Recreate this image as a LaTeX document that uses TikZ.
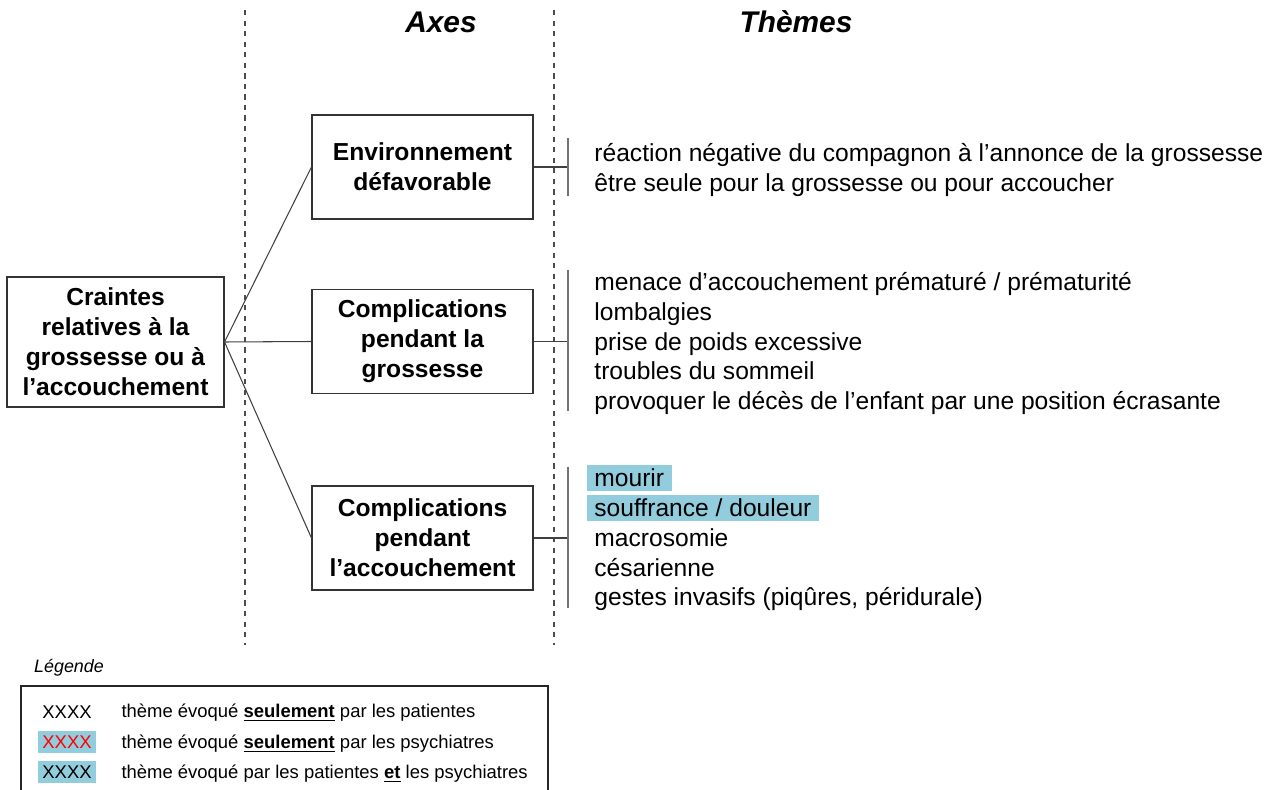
\documentclass[tikz,border=0pt]{standalone}
\usepackage{fontspec}
\setmainfont{Liberation Sans}
\usetikzlibrary{positioning, calc}
\definecolor{hlblue}{RGB}{146,205,221}
\tikzset{
    every picture/.style = {line width = 0.6pt},
    box/.style = {
        draw = black!80,
        align = center,
        inner sep = 2pt,
        font = \bfseries\fontsize{14}{17}\selectfont
    },
    axe/.style = {box, minimum width = 4.42cm, minimum height = 2.08cm},
    theme/.style = {
        anchor = west,
        inner xsep = 4.5pt,
        inner ysep = 1pt,
        text height = 11.4pt,
        text depth = 1.3pt,
        font = \fontsize{14}{17}\selectfont
    },
    both/.style = {fill = hlblue},
    branch/.style = {draw = black!75},
    bracket/.style = {draw = black!55},
    sep/.style = {draw = black!70, dashed},
    title/.style = {font = \bfseries\itshape\fontsize{17}{20}\selectfont},
    xxxx/.style = {
        minimum width = 1.16cm,
        minimum height = 0.44cm,
        inner sep = 0pt,
        font = \fontsize{10.5}{12}\selectfont
    },
    legtext/.style = {anchor = west, inner sep = 0pt, font = \fontsize{10.5}{12}\selectfont}
}

\begin{document}
\begin{tikzpicture}
    \path[use as bounding box, clip] (0, 0) rectangle (25.48, 15.78);

    % colonnes
    \coordinate (s1t) at (4.9, 15.58);
    \coordinate (s1b) at (4.9, 2.88);
    \coordinate (s2t) at (11.08, 15.58);
    \coordinate (s2b) at (11.08, 2.88);
    \draw[sep] (s1t) -- (s1b);
    \draw[sep] (s2t) -- (s2b);
    \node[title] (axes) at (8.82, 15.34) {Axes};
    \node[title] (themes) at (15.92, 15.34) {Thèmes};

    % boites
    \node[box, minimum width = 4.34cm, minimum height = 2.6cm] (craintes) at (2.31, 8.94)
        {Craintes\\relatives à la\\grossesse ou à\\l’accouchement};
    \node[axe] (env) at (8.45, 12.44) {Environnement\\défavorable};
    \node[axe] (gross) at (8.45, 8.95) {Complications\\pendant la\\grossesse};
    \node[axe] (accou) at (8.45, 5.02) {Complications\\pendant\\l’accouchement};

    \draw[branch] (craintes.east) -- (env.west);
    \draw[branch] (craintes.east) -- (gross.west);
    \draw[branch] (craintes.east) -- (accou.west);

    % accolades
    \coordinate (k1) at (11.36, 12.44);
    \coordinate (k2) at (11.36, 8.95);
    \coordinate (k3) at (11.36, 5.02);
    \draw[branch] (env.east) -- (k1);
    \draw[branch] (gross.east) -- (k2);
    \draw[branch] (accou.east) -- (k3);
    \draw[bracket] ([yshift = 0.58cm] k1) -- ([yshift = -0.58cm] k1);
    \draw[bracket] ([yshift = 1.42cm] k2) -- ([yshift = -1.40cm] k2);
    \draw[bracket] ([yshift = 1.42cm] k3) -- ([yshift = -1.40cm] k3);

    % themes
    \node[theme] (e1) at (11.72, 12.72) {réaction négative du compagnon à l’annonce de la grossesse};
    \node[theme] (e2) at (11.72, 12.12) {être seule pour la grossesse ou pour accoucher};
    \foreach \t [count = \i] in {
        menace d’accouchement prématuré / prématurité,
        lombalgies,
        prise de poids excessive,
        troubles du sommeil,
        provoquer le décès de l’enfant par une position écrasante}
        \node[theme] (g\i) at (11.72, 10.14 - 0.592 * \i + 0.592) {\t};
    \node[theme, both] (a1) at (11.72, 6.22) {mourir};
    \node[theme, both] (a2) at (11.72, 5.625) {souffrance / douleur};
    \node[theme] (a3) at (11.72, 5.03) {macrosomie};
    \node[theme] (a4) at (11.72, 4.435) {césarienne};
    \node[theme] (a5) at (11.72, 3.84) {gestes invasifs (piqûres, péridurale)};

    % legende
    \node[font = \itshape\fontsize{10.2}{12}\selectfont] (legende) at (1.38, 2.42) {Légende};
    \draw[line width = 1.1pt, draw = black!85] (0.42, 2.06) rectangle (10.96, -0.3);
    \node[xxxx] (x1) at (1.34, 1.54) {XXXX};
    \node[xxxx, fill = hlblue, text = red] (x2) at (1.34, 0.94) {XXXX};
    \node[xxxx, fill = hlblue] (x3) at (1.34, 0.34) {XXXX};
    \node[legtext] (l1) at (2.42, 1.52) {thème évoqué \textbf{\underline{seulement}} par les patientes};
    \node[legtext] (l2) at (2.42, 0.90) {thème évoqué \textbf{\underline{seulement}} par les psychiatres};
    \node[legtext] (l3) at (2.42, 0.30) {thème évoqué par les patientes \textbf{\underline{et}} les psychiatres};
\end{tikzpicture}
\end{document}
